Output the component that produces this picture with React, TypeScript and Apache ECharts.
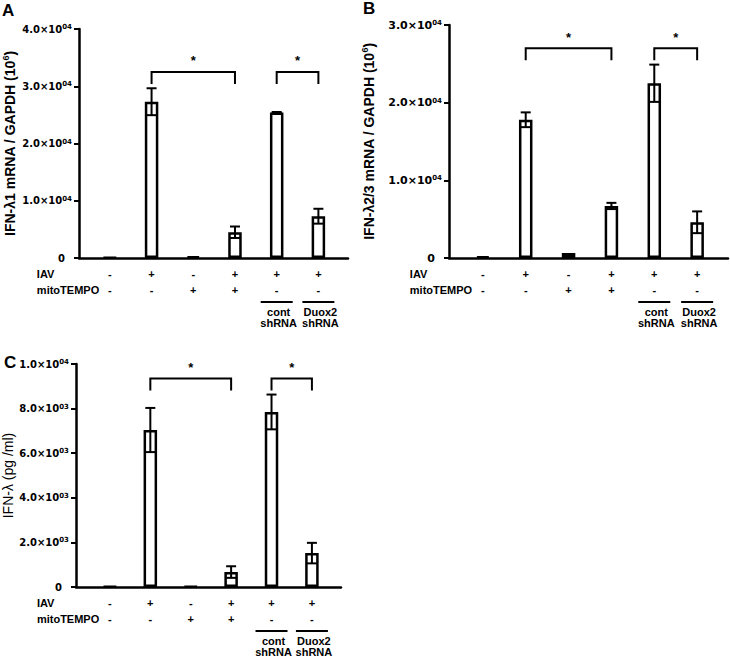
import React, { useEffect, useRef } from 'react';
import * as echarts from 'echarts';

// ---- data ----
const conditions = ['mock', 'IAV', 'mitoTEMPO', 'IAV + mitoTEMPO', 'IAV cont shRNA', 'IAV Duox2 shRNA'];
const iavRow = ['-', '+', '-', '+', '+', '+'];
const mitoTempoRow = ['-', '-', '+', '+', '-', '-'];
const shRnaRow = ['', '', '', '', 'cont\nshRNA', 'Duox2\nshRNA'];

// Panel A: IFN-λ1 mRNA / GAPDH (10^6)
const ifnL1Mean = [100, 27300, 300, 4500, 25400, 7300];
const ifnL1Err = [0, 2350, 0, 1000, 100, 1300];
const ifnL1Brackets = [[1, 3, 32500], [4, 5, 32500]];

// Panel B: IFN-λ2/3 mRNA / GAPDH (10^6)
const ifnL23Mean = [200, 17800, 650, 6700, 22500, 4600];
const ifnL23Err = [0, 950, 0, 400, 2400, 1400];
const ifnL23Brackets = [[1, 3, 27000], [4, 5, 27000]];

// Panel C: IFN-λ (pg/ml)
const ifnLProtMean = [30, 7040, 30, 670, 7850, 1520];
const ifnLProtErr = [0, 990, 0, 260, 780, 460];
const ifnLProtBrackets = [[1, 3, 9350], [4, 5, 9350]];

const rowLabels = ['IAV', 'mitoTEMPO'];

// ---- layout / style ----
const SANS = '"Liberation Sans", Arial, Helvetica, sans-serif';
const DEJA = '"DejaVu Sans", sans-serif';

const panels = [
  {
    letter: 'A', letterX: 2, letterY: 2,
    grid: { left: 77, top: 29, width: 271, height: 229 },
    xMin: -0.74, xMax: 5.71, yMax: 40000, interval: 10000,
    mean: ifnL1Mean, err: ifnL1Err, brackets: ifnL1Brackets,
    name: ['IFN-λ1 mRNA / GAPDH (10', '6', ')'], nameBold: true, nameGap: 60,
    tickSize: 10,
  },
  {
    letter: 'B', letterX: 363, letterY: 0,
    grid: { left: 449, top: 25, width: 279, height: 233 },
    xMin: -0.79, xMax: 5.72, yMax: 30000, interval: 10000,
    mean: ifnL23Mean, err: ifnL23Err, brackets: ifnL23Brackets,
    name: ['IFN-λ2/3 mRNA / GAPDH (10', '6', ')'], nameBold: true, nameGap: 71,
    tickSize: 11,
  },
  {
    letter: 'C', letterX: 4, letterY: 354,
    grid: { left: 76, top: 364, width: 265, height: 223 },
    xMin: -0.84, xMax: 5.72, yMax: 10000, interval: 2000,
    mean: ifnLProtMean, err: ifnLProtErr, brackets: ifnLProtBrackets,
    name: ['IFN-λ (pg /ml)', '', ''], nameBold: false, nameGap: 59,
    tickSize: 10,
  },
];

const sciLabel = (v: number) => {
  if (v === 0) return '{z|0}';
  const e = Math.floor(Math.log10(v) + 1e-9);
  const m = (v / Math.pow(10, e)).toFixed(1);
  return `{m|${m}×10}{s|${String(e).padStart(2, '0')}}`;
};

function buildOption() {
  const grid: any[] = [];
  const xAxis: any[] = [];
  const yAxis: any[] = [];
  const series: any[] = [];
  const graphic: any[] = [];

  panels.forEach((p, k) => {
    grid.push({ ...p.grid, containLabel: false });
    xAxis.push({
      type: 'value', gridIndex: k, min: p.xMin, max: p.xMax,
      axisLine: { show: true, onZero: false, lineStyle: { color: '#000', width: 2.5 } },
      axisTick: { show: false }, axisLabel: { show: false }, splitLine: { show: false },
    });
    const nameStr = p.name[1]
      ? `{t|${p.name[0]}}{s|${p.name[1]}}{t|${p.name[2]}}`
      : `{t|${p.name[0]}}`;
    yAxis.push({
      type: 'value', gridIndex: k, min: 0, max: p.yMax, interval: p.interval,
      name: nameStr, nameLocation: 'middle', nameRotate: 90, nameGap: p.nameGap,
      nameTextStyle: {
        rich: {
          t: { fontFamily: SANS, fontWeight: p.nameBold ? 'bold' : 'normal', fontSize: 14, color: '#000', lineHeight: 18 },
          s: { fontFamily: SANS, fontWeight: 'bold', fontSize: 9, color: '#000', verticalAlign: 'top', lineHeight: 10 },
        },
      },
      axisLine: { show: true, onZero: false, lineStyle: { color: '#000', width: 2.5 } },
      axisTick: { show: true, inside: false, length: 5, lineStyle: { color: '#000', width: 2 } },
      splitLine: { show: false },
      axisLabel: {
        margin: 7,
        formatter: sciLabel,
        rich: {
          m: { fontFamily: DEJA, fontWeight: 'bold', fontSize: p.tickSize, color: '#000', lineHeight: 11 },
          s: { fontFamily: DEJA, fontWeight: 'bold', fontSize: 7, color: '#000', verticalAlign: 'top', lineHeight: 8 },
          z: { fontFamily: DEJA, fontWeight: 'bold', fontSize: p.tickSize, color: '#000', lineHeight: 11, padding: [0, 7, 0, 0] },
        },
      },
    });

    series.push({
      type: 'bar', xAxisIndex: k, yAxisIndex: k, barWidth: 13.5,
      data: p.mean.map((v, i) => [i, v]),
      itemStyle: { color: '#fff', borderColor: '#000', borderWidth: 2.5 },
      z: 2,
    });

    series.push({
      type: 'custom', xAxisIndex: k, yAxisIndex: k, clip: false, z: 3,
      data: p.mean.map((v, i) => [i, v, p.err[i]]),
      renderItem: (params: any, api: any) => {
        const x = api.value(0), m = api.value(1), e = api.value(2);
        if (!e) return { type: 'group', children: [] };
        const top = api.coord([x, m + e]);
        const bot = api.coord([x, m - e]);
        const cap = 5;
        const st = { stroke: '#000', lineWidth: 2 };
        return {
          type: 'group', children: [
            { type: 'line', shape: { x1: top[0], y1: top[1], x2: bot[0], y2: bot[1] }, style: st },
            { type: 'line', shape: { x1: top[0] - cap, y1: top[1], x2: top[0] + cap, y2: top[1] }, style: st },
            { type: 'line', shape: { x1: bot[0] - cap, y1: bot[1], x2: bot[0] + cap, y2: bot[1] }, style: st },
          ],
        };
      },
    });

    series.push({
      type: 'custom', xAxisIndex: k, yAxisIndex: k, clip: false, z: 3,
      data: p.brackets,
      renderItem: (params: any, api: any) => {
        const a = api.coord([api.value(0), api.value(2)]);
        const b = api.coord([api.value(1), api.value(2)]);
        const drop = 12;
        return {
          type: 'group', children: [
            {
              type: 'polyline',
              shape: { points: [[a[0], a[1] + drop], [a[0], a[1]], [b[0], b[1]], [b[0], b[1] + drop]] },
              style: { stroke: '#000', lineWidth: 2, fill: 'none' },
            },
            {
              type: 'text',
              style: {
                text: '*', x: (a[0] + b[0]) / 2, y: a[1] - 11, align: 'center', verticalAlign: 'middle',
                fontFamily: SANS, fontWeight: 'bold', fontSize: 13, fill: '#000',
              },
            },
          ],
        };
      },
    });

    series.push({
      type: 'custom', xAxisIndex: k, yAxisIndex: k, clip: false, z: 3,
      data: conditions.map((_, i) => [i, 0]),
      renderItem: (params: any, api: any) => {
        const i = params.dataIndex;
        const c = api.coord([api.value(0), 0]);
        const cx = c[0], cy = c[1];
        const txt = (t: string, x: number, y: number, align = 'center') => ({
          type: 'text',
          style: {
            text: t, x, y, align, verticalAlign: 'middle',
            fontFamily: SANS, fontWeight: 'bold', fontSize: 11, fill: '#000', lineHeight: 11,
          },
        });
        const children: any[] = [
          txt(iavRow[i], cx, cy + 16),
          txt(mitoTempoRow[i], cx, cy + 31.5),
        ];
        if (i === 0) {
          children.push(txt(rowLabels[0], cx - 73, cy + 16, 'left'));
          children.push(txt(rowLabels[1], cx - 73, cy + 31.5, 'left'));
        }
        if (shRnaRow[i]) {
          children.push({
            type: 'line',
            shape: { x1: cx - 16, y1: cy + 44, x2: cx + 16, y2: cy + 44 },
            style: { stroke: '#000', lineWidth: 2 },
          });
          const parts = shRnaRow[i].split('\n');
          children.push(txt(parts[0], cx + 2, cy + 54));
          children.push(txt(parts[1], cx + 2, cy + 65));
        }
        return { type: 'group', children };
      },
    });

    graphic.push({
      type: 'text', left: p.letterX, top: p.letterY,
      style: { text: p.letter, fontFamily: SANS, fontWeight: 'bold', fontSize: 17, fill: '#000' },
    });
  });

  return { animation: false, backgroundColor: '#fff', grid, xAxis, yAxis, series, graphic };
}

export default function App() {
  const ref = useRef<HTMLDivElement>(null);
  useEffect(() => {
    document.body.style.margin = '0';
    if (!ref.current) return;
    const chart = echarts.init(ref.current, undefined, { renderer: 'svg' });
    chart.setOption(buildOption() as any);
    return () => chart.dispose();
  }, []);
  return <div ref={ref} style={{ width: 730, height: 660, position: 'absolute', left: 0, top: 0, background: '#fff' }} />;
}
